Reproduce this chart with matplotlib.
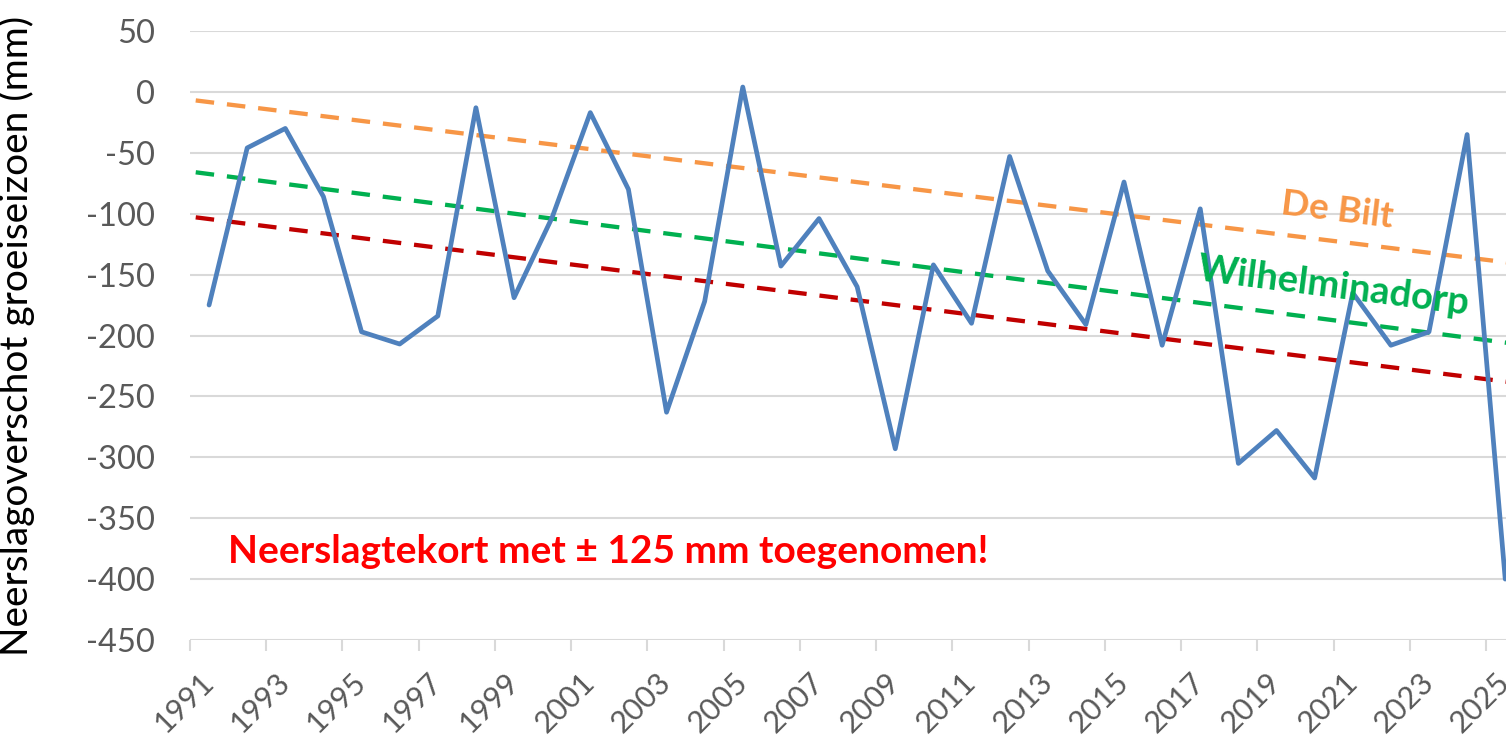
import numpy as np
import matplotlib
matplotlib.use("Agg")
import matplotlib.pyplot as plt
from matplotlib.ticker import FixedLocator

plt.rcParams['font.family'] = ['Lato', 'DejaVu Sans']
plt.rcParams['axes.unicode_minus'] = False

years = list(range(1991, 2026))
surplus = [-175, -46, -30, -86, -197, -207, -184, -13, -169, -103,
           -17, -80, -263, -172, 4, -143, -104, -160, -293, -142,
           -190, -53, -147, -191, -74, -208, -96, -305, -278, -317,
           -165, -208, -197, -35, -400]

# trend lines: value at left edge and at right edge of the plot
trend_debilt = [-7, -140]
trend_wilh = [-66, -206]
trend_red = [-103, -238]
trend_x = [-0.35, 34.05]

blue = '#4F81BD'
orange = '#F79646'
green = '#00B050'
darkred = '#C00000'
grid_c = '#D9D9D9'
label_c = '#595959'

fig = plt.figure(figsize=(15.06, 7.41), dpi=100)
ax = fig.add_axes([190 / 1506, 101 / 741, 1316 / 1506, 609 / 741])

x = np.arange(len(years))

dash = (4.3, 3.0)
ax.plot(trend_x, trend_debilt, color=orange, lw=3.1, dashes=dash, zorder=2)
ax.plot(trend_x, trend_wilh, color=green, lw=3.1, dashes=dash, zorder=2)
ax.plot(trend_x, trend_red, color=darkred, lw=3.1, dashes=dash, zorder=2)
ax.plot(x, surplus, color=blue, lw=3.4, solid_joinstyle='round',
        solid_capstyle='round', zorder=3)

ax.set_xlim(-0.5, 34.02)
ax.set_ylim(-450, 50)
ax.set_yticks(np.arange(-450, 51, 50))
ax.grid(axis='y', color=grid_c, lw=1.5)
ax.set_axisbelow(True)
for s in ax.spines.values():
    s.set_visible(False)

ax.tick_params(axis='y', length=0, pad=25, labelsize=23.5, labelcolor=label_c)

ax.xaxis.set_major_locator(FixedLocator(x[::2]))
ax.set_xticklabels([str(y) for y in years[::2]], rotation=45, ha='right',
                   va='center', rotation_mode='anchor')
ax.xaxis.set_minor_locator(FixedLocator(np.arange(-0.5, 34.1, 2)))
ax.tick_params(axis='x', which='major', length=0, pad=27, labelsize=22,
               labelcolor=label_c)
ax.tick_params(axis='x', which='minor', length=8, width=1.5, color=grid_c,
               direction='out')

ax.set_ylabel('Neerslagoverschot groeiseizoen (mm)', fontsize=28, color='black')
ax.yaxis.set_label_coords(-0.118, 0.5)

ax.text(0.5, -387, 'Neerslagtekort met \u00b1 125 mm toegenomen!', color='#FF0000',
        fontsize=28, fontweight='bold', va='baseline', ha='left')
ax.text(29.6, -97, 'De Bilt', color=orange, fontsize=26.5, fontweight='bold',
        rotation=-7, ha='center', va='center', rotation_mode='anchor')
ax.text(29.5, -160, 'Wilhelminadorp', color=green, fontsize=27.5, fontweight='bold',
        rotation=-7.3, ha='center', va='center', rotation_mode='anchor')

fig.savefig('out.png', dpi=100)
